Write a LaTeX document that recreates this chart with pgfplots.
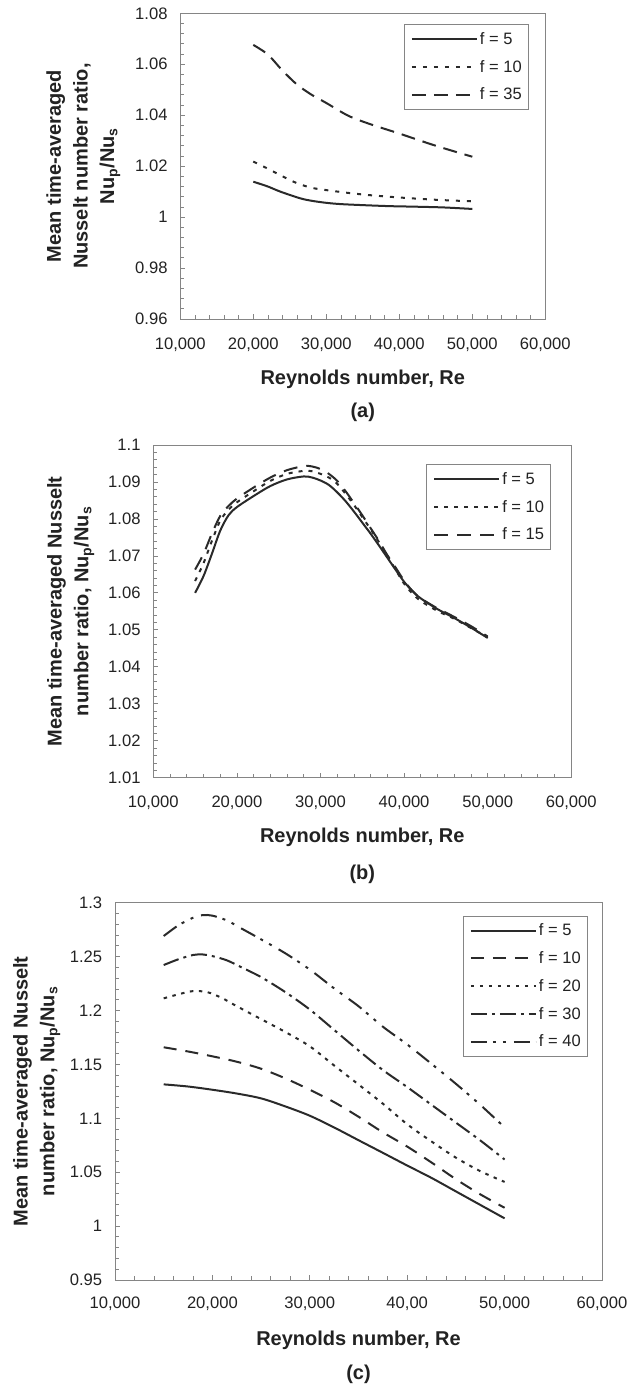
\documentclass[border=0pt]{standalone}
\usepackage{fontspec}
\setmainfont{Liberation Sans}
\usepackage{pgfplots}
\pgfplotsset{compat=1.18}
\definecolor{axgray}{HTML}{858585}
\definecolor{txt}{HTML}{222222}
\definecolor{crv}{HTML}{2a2a2a}
\newcommand\ticksize{\fontsize{16.6}{19}\selectfont}
\newcommand\labsize{\fontsize{20}{26.7}\selectfont\bfseries}
\newcommand\legsize{\fontsize{16.5}{19}\selectfont}
\pgfplotsset{
 panel/.style={
  scale only axis, anchor=south west,
  xmin=10000, xmax=60000,
  xtick={10000,20000,30000,40000,50000,60000},
  minor x tick num=4, minor y tick num=4,
  tick align=inside, xtick pos=left, ytick pos=left,
  major tick length=5pt, minor tick length=4pt,
  axis line style={draw=axgray, line width=1pt},
  every tick/.style={draw=axgray, line width=0.8pt},
  scaled ticks=false,
  ticklabel style={font=\ticksize, text=txt},
  xticklabel style={anchor=base, inner sep=0pt, yshift=-30pt},
  yticklabel style={anchor=east, inner sep=0pt, xshift=-12.6pt},
  xlabel={Reynolds number, Re},
  xlabel style={font=\labsize, text=txt, at={(axis description cs:0.5,0)}, anchor=base, yshift=-65pt, inner sep=0pt},
  ylabel style={font=\labsize, text=txt, align=center, anchor=center, inner sep=0pt},
  legend cell align=left,
  legend image code/.code={\draw[#1] (0pt,0pt) -- (65pt,0pt);},
  legend style={draw=axgray, line width=1pt, at={(1,1)}, anchor=north east, font=\legsize, text=txt,
    inner xsep=6.5pt, inner ysep=7.7pt, row sep=14.3pt, column sep=2pt, nodes={inner sep=0pt}},
 },
 crvst/.style={crv, line width=2pt, smooth, tension=0.5, no markers},
}
\begin{document}
\begin{tikzpicture}
\useasboundingbox (0,0) rectangle (630pt,-1384pt);
% ---------------- (a)
\begin{axis}[panel, name=pa, at={(180.3pt,-319pt)}, width=365pt, height=305.7pt,
  ymin=0.96, ymax=1.08,
  xticklabels={{10,000},{20,000},{30,000},{40,000},{50,000},{60,000}},
  ytick={0.96,0.98,1,1.02,1.04,1.06,1.08},
  yticklabels={0.96,0.98,1,1.02,1.04,1.06,1.08},
  ylabel={Mean time-averaged\\Nusselt number ratio,\\Nu\textsubscript{p}/Nu\textsubscript{s}},
  ylabel style={at={(axis description cs:-0.2658,0.5)}},
  legend style={xshift=-16.6pt, yshift=-11pt}]
\addplot[crvst, solid] coordinates {(20000,1.0139) (22000,1.0120) (23700,1.0100) (26400,1.0074) (28000,1.0064) (30000,1.0056) (32000,1.0051) (35000,1.0047) (38700,1.0043) (42000,1.0041) (46000,1.0038) (50000,1.0032)};
\addlegendentry{f = 5}
\addplot[crvst, dash pattern=on 4pt off 7pt] coordinates {(20000,1.0218) (22000,1.0190) (24000,1.0160) (26000,1.0133) (28000,1.0115) (30000,1.0106) (33000,1.0095) (36000,1.0086) (40000,1.0077) (45000,1.0068) (50000,1.0062)};
\addlegendentry{f = 10}
\addplot[crvst, dash pattern=on 14pt off 8pt] coordinates {(20000,1.0676) (22000,1.0638) (24000,1.0575) (26000,1.0520) (28000,1.0480) (30000,1.0448) (33000,1.0398) (36000,1.0365) (40000,1.0328) (45000,1.0280) (50000,1.0237)};
\addlegendentry{f = 35}
\end{axis}
\node[font=\labsize, text=txt, anchor=base] at ([yshift=-98.7pt]pa.south) {(a)};
% ---------------- (b)
\begin{axis}[panel, name=pb, at={(153.3pt,-777.7pt)}, width=418pt, height=332.7pt,
  ymin=1.01, ymax=1.1,
  xticklabels={{10,000},{20,000},{30,000},{40,000},{50,000},{60,000}},
  ytick={1.01,1.02,1.03,1.04,1.05,1.06,1.07,1.08,1.09,1.1},
  yticklabels={1.01,1.02,1.03,1.04,1.05,1.06,1.07,1.08,1.09,1.1},
  ylabel={Mean time-averaged Nusselt\\number ratio, Nu\textsubscript{p}/Nu\textsubscript{s}},
  ylabel style={at={(axis description cs:-0.1974,0.5)}},
  legend style={xshift=-20.3pt, yshift=-19.3pt}]
\addplot[crvst, solid] coordinates {(15000,1.0600) (16000,1.0645) (17000,1.0705) (18000,1.0768) (19000,1.0810) (20000,1.0832) (22000,1.0862) (24000,1.0889) (26000,1.0907) (28000,1.0915) (29000,1.0912) (30000,1.0904) (31000,1.0892) (32000,1.0872) (33000,1.0848) (34000,1.0820) (35000,1.0790) (36000,1.0760) (37000,1.0728) (38000,1.0695) (39000,1.0662) (40000,1.0630) (41000,1.0605) (42000,1.0585) (44000,1.0556) (46000,1.0532) (48000,1.0506) (50000,1.0478)};
\addlegendentry{f = 5}
\addplot[crvst, dash pattern=on 4pt off 6pt] coordinates {(15000,1.0632) (16000,1.0680) (17000,1.0740) (18000,1.0795) (19000,1.0825) (20000,1.0845) (22000,1.0875) (24000,1.0903) (26000,1.0922) (28000,1.0930) (29000,1.0929) (30000,1.0922) (31000,1.0912) (32000,1.0895) (33000,1.0868) (34000,1.0838) (35000,1.0805) (36000,1.0772) (37000,1.0737) (38000,1.0700) (39000,1.0662) (40000,1.0625) (41000,1.0598) (42000,1.0578) (44000,1.0551) (46000,1.0530) (48000,1.0505) (50000,1.0480)};
\addlegendentry{f = 10}
\addplot[crvst, dash pattern=on 14pt off 9pt] coordinates {(15000,1.0663) (16000,1.0705) (17000,1.0760) (18000,1.0808) (19000,1.0835) (20000,1.0855) (22000,1.0885) (24000,1.0912) (26000,1.0932) (28000,1.0943) (29000,1.0942) (30000,1.0935) (31000,1.0922) (32000,1.0903) (33000,1.0875) (34000,1.0843) (35000,1.0810) (36000,1.0775) (37000,1.0740) (38000,1.0702) (39000,1.0668) (40000,1.0633) (41000,1.0605) (42000,1.0585) (44000,1.0558) (46000,1.0535) (48000,1.0510) (50000,1.0482)};
\addlegendentry{f = 15}
\end{axis}
\node[font=\labsize, text=txt, anchor=base] at ([yshift=-101.3pt]pb.south) {(b)};
% ---------------- (c)
\begin{axis}[panel, name=pc, at={(115pt,-1280pt)}, width=487pt, height=377.3pt,
  ymin=0.95, ymax=1.3,
  xticklabels={{10,000},{20,000},{30,000},{40,00},{50,000},{60,000}},
  xticklabel style={yshift=2pt},
  ytick={0.95,1,1.05,1.1,1.15,1.2,1.25,1.3},
  yticklabels={0.95,1,1.05,1.1,1.15,1.2,1.25,1.3},
  ylabel={Mean time-averaged Nusselt\\number ratio, Nu\textsubscript{p}/Nu\textsubscript{s}},
  ylabel style={at={(axis description cs:-0.1608,0.5)}},
  legend style={xshift=-14.3pt, yshift=-13pt}]
\addplot[crvst, solid] coordinates {(15000,1.1315) (17500,1.1295) (20000,1.1265) (22500,1.1230) (25000,1.1185) (27500,1.1110) (30000,1.1024) (32500,1.0915) (35000,1.0797) (37500,1.0680) (40000,1.0562) (42500,1.0447) (45000,1.0322) (47500,1.0197) (50000,1.0072)};
\addlegendentry{f = 5}
\addplot[crvst, dash pattern=on 13pt off 9pt] coordinates {(15000,1.1659) (17500,1.1620) (20000,1.1575) (22500,1.1525) (25000,1.1460) (27500,1.1370) (30000,1.1265) (32500,1.1150) (35000,1.1015) (37500,1.0870) (40000,1.0738) (42500,1.0590) (45000,1.0435) (47500,1.0295) (50000,1.0170)};
\addlegendentry{f = 10}
\addplot[crvst, dash pattern=on 3.5pt off 5.5pt] coordinates {(15000,1.2113) (16500,1.2150) (18000,1.2180) (19500,1.2170) (21000,1.2115) (22500,1.2040) (25000,1.1920) (27500,1.1800) (30000,1.1668) (32500,1.1490) (35000,1.1314) (37500,1.1136) (40000,1.0945) (42500,1.0785) (45000,1.0635) (47500,1.0510) (50000,1.0410)};
\addlegendentry{f = 20}
\addplot[crvst, dash pattern=on 16pt off 5pt on 3pt off 5pt] coordinates {(15000,1.2422) (16500,1.2475) (18000,1.2515) (19000,1.2520) (20000,1.2505) (21500,1.2465) (23000,1.2400) (25000,1.2310) (27500,1.2170) (30000,1.2009) (32500,1.1820) (35000,1.1630) (37500,1.1448) (40000,1.1290) (42500,1.1125) (45000,1.0960) (47500,1.0795) (50000,1.0618)};
\addlegendentry{f = 30}
\addplot[crvst, dash pattern=on 16pt off 6pt on 3pt off 7pt on 3pt off 8pt] coordinates {(15000,1.2691) (16500,1.2790) (18000,1.2860) (19000,1.2885) (20000,1.2880) (21500,1.2835) (23000,1.2760) (25000,1.2660) (27500,1.2530) (30000,1.2380) (32500,1.2205) (35000,1.2040) (37500,1.1850) (40000,1.1685) (42500,1.1505) (45000,1.1320) (47500,1.1125) (50000,1.0916)};
\addlegendentry{f = 40}
\end{axis}
\node[font=\labsize, text=txt, anchor=base] at ([yshift=-99pt]pc.south) {(c)};
\end{tikzpicture}
\end{document}
